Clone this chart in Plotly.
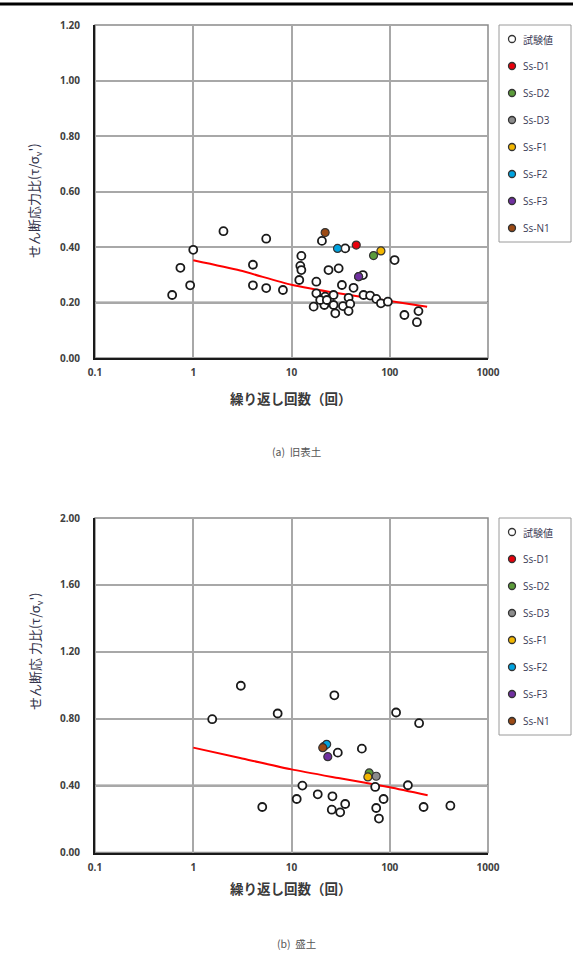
import plotly.graph_objects as go

# ---------------- data ----------------
case_names = ["Ss-D1", "Ss-D2", "Ss-D3", "Ss-F1", "Ss-F2", "Ss-F3", "Ss-N1"]
case_colors = ["#e8000b", "#5b9b3a", "#8c8c8c", "#f2b600", "#00a3e0", "#7030a0", "#9c4a14"]
test_label = "試験値"

# (a) 旧表土
top_test_N = [0.61, 0.74, 0.93, 1.0, 2.03, 4.05, 4.05, 5.53, 5.53, 8.18, 12.6, 12.3, 12.6, 12.0,
              17.9, 17.9, 16.8, 20.4, 22.0, 21.6, 26.8, 26.8, 27.9, 32.6, 33.4, 38.1, 39.6, 38.1,
              42.8, 54.1, 63.1, 72.9, 81.3, 95.7, 23.8, 30.2, 35.2, 112, 53.3, 141, 196, 189, 19.6, 22.9]
top_test_ratio = [0.227, 0.325, 0.262, 0.39, 0.457, 0.336, 0.262, 0.43, 0.252, 0.245, 0.368, 0.332,
                  0.317, 0.281, 0.275, 0.233, 0.185, 0.422, 0.221, 0.191, 0.227, 0.191, 0.161, 0.263,
                  0.187, 0.217, 0.195, 0.169, 0.253, 0.227, 0.225, 0.213, 0.197, 0.203, 0.317, 0.323,
                  0.395, 0.353, 0.299, 0.155, 0.169, 0.129, 0.209, 0.209]
top_case_N = [45.6, 68.4, 48.2, 81.3, 29.4, 48.2, 22.0]
top_case_ratio = [0.407, 0.369, 0.293, 0.386, 0.395, 0.293, 0.452]
top_curve_N = [1, 3, 10, 30, 100, 240]
top_curve_ratio = [0.352, 0.315, 0.264, 0.233, 0.205, 0.185]

# (b) 盛土
bot_test_N = [1.56, 3.05, 7.23, 5.04, 27.3, 116, 199, 29.6, 52, 71.1, 153, 12.9, 11.3, 18.5, 26.1,
              35.2, 25.7, 31.3, 86.5, 72.8, 77.6, 221, 414]
bot_test_ratio = [0.797, 0.997, 0.831, 0.272, 0.94, 0.837, 0.773, 0.597, 0.621, 0.392, 0.402, 0.40,
                  0.32, 0.348, 0.336, 0.29, 0.256, 0.24, 0.32, 0.266, 0.203, 0.272, 0.28]
bot_case_N = [21.5, 61.8, 72.8, 59.9, 22.8, 23.4, 20.8]
bot_case_ratio = [0.635, 0.476, 0.456, 0.452, 0.647, 0.573, 0.627]
bot_curve_N = [1, 3, 10, 30, 100, 243]
bot_curve_ratio = [0.627, 0.565, 0.497, 0.445, 0.39, 0.342]

x_tick_vals = [0.1, 1, 10, 100, 1000]
x_tick_text = ["0.1", "1", "10", "100", "1000"]

# ---------------- figure ----------------
W, H = 573, 956
fig = go.Figure()

TICKFONT = dict(family="Open Sans", size=10, color="#404040", weight="bold")
CJK = "Noto Sans CJK JP"
MK = 8


def add_panel(xa, ya, test_N, test_r, case_N, case_r, curve_N, curve_r):
    fig.add_trace(go.Scatter(x=curve_N, y=curve_r, mode="lines", xaxis=xa, yaxis=ya,
                             line=dict(color="#ff0000", width=2, shape="spline", smoothing=0.6),
                             showlegend=False, hoverinfo="skip"))
    fig.add_trace(go.Scatter(x=test_N, y=test_r, mode="markers", xaxis=xa, yaxis=ya,
                             name=test_label, showlegend=False,
                             marker=dict(size=MK, color="white",
                                         line=dict(color="#1a1a1a", width=1.8))))
    for nm, col, n, r in zip(case_names, case_colors, case_N, case_r):
        fig.add_trace(go.Scatter(x=[n], y=[r], mode="markers", xaxis=xa, yaxis=ya,
                                 name=nm, showlegend=False,
                                 marker=dict(size=MK, color=col,
                                             line=dict(color="#333333", width=1.2))))


add_panel("x", "y", top_test_N, top_test_ratio, top_case_N, top_case_ratio,
          top_curve_N, top_curve_ratio)
add_panel("x2", "y2", bot_test_N, bot_test_ratio, bot_case_N, bot_case_ratio,
          bot_curve_N, bot_curve_ratio)

xl, xr = 95 / W, 488 / W
top_t, top_b = 1 - 25 / H, 1 - 358 / H
bot_t, bot_b = 1 - 518 / H, 1 - 852.5 / H

xcommon = dict(type="log", range=[-1, 3], tickvals=x_tick_vals, ticktext=x_tick_text,
               showgrid=True, gridcolor="#a8a8a8", gridwidth=1.5, zeroline=False,
               showline=True, linecolor="#1a1a1a", linewidth=2, ticks="",
               tickfont=TICKFONT, ticklabelstandoff=4, domain=[xl, xr], automargin=False)
ycommon = dict(showgrid=True, gridcolor="#a8a8a8", gridwidth=1.5, zeroline=False,
               showline=True, linecolor="#1a1a1a", linewidth=2, ticks="",
               tickfont=TICKFONT, tickformat=".2f", ticklabelstandoff=11, automargin=False)

fig.update_layout(
    width=W, height=H, margin=dict(l=0, r=0, t=0, b=0, autoexpand=False),
    paper_bgcolor="white", plot_bgcolor="white",
    xaxis=dict(xcommon, anchor="y"),
    yaxis=dict(ycommon, range=[0, 1.2], dtick=0.2, domain=[top_b, top_t], anchor="x"),
    xaxis2=dict(xcommon, anchor="y2"),
    yaxis2=dict(ycommon, range=[0, 2.0], dtick=0.4, domain=[bot_b, bot_t], anchor="x2"),
    showlegend=False,
)

shapes = []
ann = []
# top rule across the page
shapes.append(dict(type="line", xref="paper", yref="paper", x0=0, x1=1,
                   y0=1 - 4 / H, y1=1 - 4 / H, line=dict(color="black", width=3)))
# gray top/right borders
for xa, ya in (("x", "y"), ("x2", "y2")):
    shapes.append(dict(type="rect", xref=xa + " domain", yref=ya + " domain",
                       x0=0, x1=1, y0=0, y1=1, layer="below",
                       line=dict(color="#8a8a8a", width=1.5)))
# darker grid lines
for ya, val in (("y", 0.2), ("y", 0.8), ("y2", 1.2), ("y2", 0.4)):
    shapes.append(dict(type="line", xref="x domain" if ya == "y" else "x2 domain", yref=ya,
                       x0=0, x1=1, y0=val, y1=val, layer="below",
                       line=dict(color="#2a2a2a", width=1.5)))

# legends (box + markers + labels)
leg_labels = [test_label] + case_names
leg_fills = ["white"] + case_colors
leg_lines = ["#333333"] + ["#333333"] * len(case_names)
for top_px in (25, 518):
    shapes.append(dict(type="rect", xref="paper", yref="paper",
                       x0=499 / W, x1=571 / W, y0=1 - (top_px + 217) / H, y1=1 - top_px / H,
                       line=dict(color="#9a9a9a", width=1), fillcolor="white"))
    for i, (lab, fc, lc) in enumerate(zip(leg_labels, leg_fills, leg_lines)):
        cy = top_px + 14 + 27 * i
        r = 3.5
        shapes.append(dict(type="circle", xref="paper", yref="paper",
                           x0=(512 - r) / W, x1=(512 + r) / W,
                           y0=1 - (cy + r) / H, y1=1 - (cy - r) / H,
                           fillcolor=fc, line=dict(color=lc, width=1.3)))
        ann.append(dict(text=lab, xref="paper", yref="paper", x=521 / W, y=1 - cy / H,
                        xanchor="left", yanchor="middle", showarrow=False,
                        font=dict(family="Open Sans" if lab != test_label else CJK,
                                  size=10, color="#3a3a55")))
fig.update_layout(shapes=shapes)


def center_ann(text, xpx, ypx, font, angle=0):
    ann.append(dict(text=text, xref="paper", yref="paper", x=xpx / W, y=1 - ypx / H,
                    xanchor="center", yanchor="middle", textangle=angle,
                    showarrow=False, font=font))


ytitle_font = dict(family=CJK, size=13, color="#33334a")
center_ann("せん断応力比(τ/σ<sub>v</sub>')", 35, 201, ytitle_font, -90)
center_ann("せん断応 力比(τ/σ<sub>v</sub>')", 35, 652, ytitle_font, -90)
xtitle_font = dict(family=CJK, size=13.5, color="#3a3a3a", weight="bold")
center_ann("繰り返し回数（回）", 291, 398, xtitle_font)
center_ann("繰り返し回数（回）", 291, 888, xtitle_font)
cap_font = dict(family=CJK, size=10.5, color="#555555")
center_ann("(a)  旧表土", 296, 451, cap_font)
center_ann("(b)  盛土", 296, 943, cap_font)
fig.update_layout(annotations=ann)

fig.write_html("out.html", config={"displayModeBar": False},
               post_script="document.body.style.margin='0';document.body.style.padding='0';")
